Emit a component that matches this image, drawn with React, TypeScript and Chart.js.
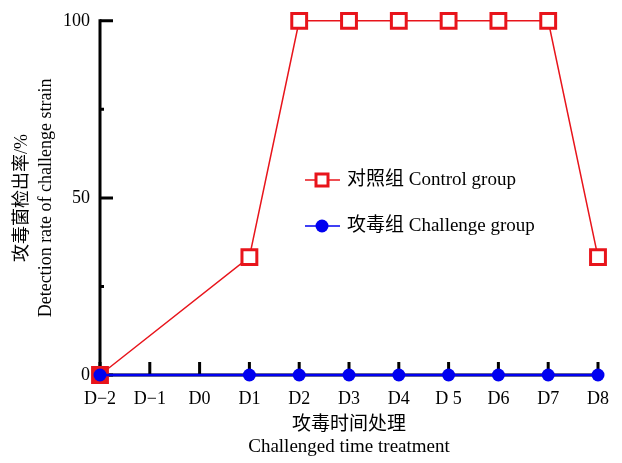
import React, { useEffect, useRef } from "react";
import { Chart, registerables } from "chart.js";

Chart.register(...registerables);

const categories = ["D−2", "D−1", "D0", "D1", "D2", "D3", "D4", "D 5", "D6", "D7", "D8"];
const controlValues: (number | null)[] = [0, null, null, 33.3, 100, 100, 100, 100, 100, 100, 33.3];
const challengeValues: (number | null)[] = [0, null, null, 0, 0, 0, 0, 0, 0, 0, 0];
const yMajorTicks = [0, 50, 100];
const yMinorTicks = [25, 75];
const controlLabel = "对照组 Control group";
const challengeLabel = "攻毒组 Challenge group";
const yTitle = ["攻毒菌检出率/%", "Detection rate of challenge strain"];
const xTitle = ["攻毒时间处理", "Challenged time treatment"];

const RED = "#e8141b";
const BLUE = "#0000f0";
const FONT = '"Liberation Serif", "Noto Sans CJK SC", serif';

const axesPlugin = {
  id: "customAxes",
  beforeDatasetsDraw(chart: any) {
    const { ctx, scales } = chart;
    const x = scales.x;
    const y = scales.y;
    const x0 = x.getPixelForValue(0);
    const x1 = x.getPixelForValue(categories.length - 1);
    const yTop = y.getPixelForValue(100);
    const yBot = y.getPixelForValue(0);
    ctx.save();
    ctx.strokeStyle = "#000";
    ctx.lineWidth = 3;
    ctx.lineCap = "butt";
    ctx.beginPath();
    ctx.moveTo(x0, yTop - 1.5);
    ctx.lineTo(x0, yBot + 1.5);
    ctx.moveTo(x0 - 1.5, yBot);
    ctx.lineTo(x1 + 1.5, yBot);
    ctx.stroke();
    ctx.beginPath();
    yMajorTicks.forEach((v) => {
      const py = y.getPixelForValue(v);
      ctx.moveTo(x0, py);
      ctx.lineTo(x0 + 13, py);
    });
    yMinorTicks.forEach((v) => {
      const py = y.getPixelForValue(v);
      ctx.moveTo(x0, py);
      ctx.lineTo(x0 + 4, py);
    });
    categories.forEach((_, i) => {
      const px = x.getPixelForValue(i);
      ctx.moveTo(px, yBot);
      ctx.lineTo(px, yBot - 13);
    });
    ctx.stroke();
    ctx.restore();
  },
  afterDraw(chart: any) {
    const { ctx } = chart;
    ctx.save();
    const lx0 = 305;
    const lx1 = 340;
    const cx = 322;
    const ty = [180, 226];
    // control
    ctx.strokeStyle = RED;
    ctx.lineWidth = 1.5;
    ctx.beginPath();
    ctx.moveTo(lx0, ty[0]);
    ctx.lineTo(lx1, ty[0]);
    ctx.stroke();
    ctx.fillStyle = "#fff";
    ctx.lineWidth = 3;
    ctx.fillRect(cx - 6, ty[0] - 6, 12, 12);
    ctx.strokeRect(cx - 6, ty[0] - 6, 12, 12);
    // challenge
    ctx.strokeStyle = BLUE;
    ctx.lineWidth = 1.5;
    ctx.beginPath();
    ctx.moveTo(lx0, ty[1]);
    ctx.lineTo(lx1, ty[1]);
    ctx.stroke();
    ctx.fillStyle = BLUE;
    ctx.beginPath();
    ctx.arc(cx, ty[1], 6.5, 0, Math.PI * 2);
    ctx.fill();
    ctx.fillStyle = "#000";
    ctx.font = "19px " + FONT;
    ctx.textBaseline = "middle";
    ctx.textAlign = "left";
    ctx.fillText(controlLabel, 347, ty[0]);
    ctx.fillText(challengeLabel, 347, ty[1]);
    ctx.restore();
  },
};

export default function App() {
  const ref = useRef<HTMLCanvasElement>(null);
  useEffect(() => {
    if (!ref.current) return;
    const chart = new Chart(ref.current, {
      type: "line",
      data: {
        labels: categories,
        datasets: [
          {
            label: controlLabel,
            data: controlValues,
            borderColor: RED,
            borderWidth: 1.5,
            pointStyle: "rect",
            pointRadius: 10.5,
            pointBorderWidth: 3,
            pointBorderColor: RED,
            pointBackgroundColor: controlValues.map((_, i) => (i === 0 ? RED : "#fff")),
            spanGaps: true,
            clip: false,
            order: 1,
          },
          {
            label: challengeLabel,
            data: challengeValues,
            borderColor: BLUE,
            borderWidth: 2.5,
            pointStyle: "circle",
            pointRadius: 6.5,
            pointBorderWidth: 0,
            pointBackgroundColor: BLUE,
            spanGaps: true,
            clip: false,
            order: 0,
          },
        ],
      },
      options: {
        responsive: false,
        animation: false,
        layout: { padding: { left: 0, right: 24, top: 18, bottom: 0 } },
        plugins: { legend: { display: false }, tooltip: { enabled: false } },
        scales: {
          x: {
            type: "category",
            offset: false,
            grid: { display: false, drawTicks: false },
            border: { display: false },
            ticks: {
              color: "#000",
              font: { family: FONT, size: 18 },
              padding: 13,
              maxRotation: 0,
              autoSkip: false,
            },
            title: {
              display: true,
              text: xTitle,
              color: "#000",
              font: { family: FONT, size: 19, lineHeight: 1.16 },
              padding: { top: 0, bottom: 5 },
            },
            afterFit: (s: any) => {
              s.height = 88;
            },
          },
          y: {
            min: 0,
            max: 100,
            grid: { display: false, drawTicks: false },
            border: { display: false },
            ticks: {
              stepSize: 50,
              color: "#000",
              font: { family: FONT, size: 18 },
              padding: 10,
            },
            title: {
              display: true,
              text: yTitle,
              color: "#000",
              font: { family: FONT, size: 18, lineHeight: 1.34 },
              padding: { top: 10, bottom: 0 },
            },
            afterFit: (s: any) => {
              s.width = 100;
            },
          },
        },
      },
      plugins: [axesPlugin],
    });
    return () => chart.destroy();
  }, []);
  return (
    <div style={{ position: "absolute", left: 0, top: 0, width: 622, height: 463, background: "#fff" }}>
      <canvas ref={ref} width={622} height={463} />
    </div>
  );
}
